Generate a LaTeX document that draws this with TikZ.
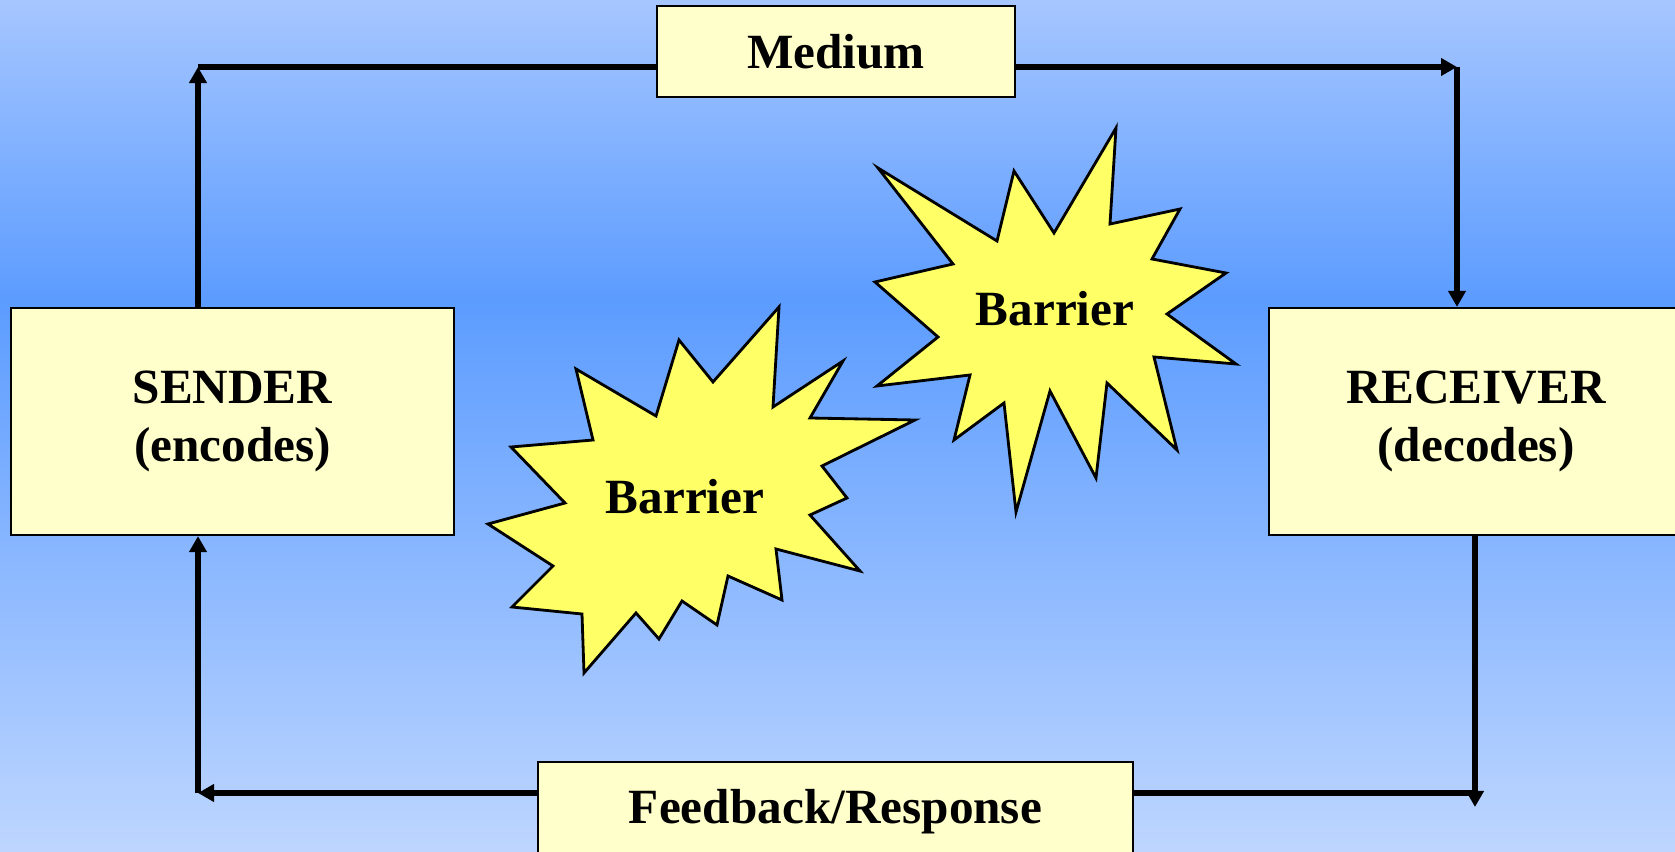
\documentclass[tikz,border=0pt]{standalone}
\usepackage{fontspec}
\setmainfont{Liberation Serif}
\usetikzlibrary{arrows.meta}

\definecolor{paleyellow}{HTML}{FFFFCC}
\definecolor{burstyellow}{HTML}{FFFF66}
\definecolor{skytop}{HTML}{A6C6FF}
\definecolor{skymid}{HTML}{5C9CFF}
\definecolor{skybot}{HTML}{BED6FF}

\tikzset{
  box/.style = {draw, line width = 0.6pt, fill = paleyellow, align = center,
                font = \fontsize{14}{16.5}\selectfont\bfseries, inner sep = 0pt},
  burst/.style = {draw, line width = 0.8pt, fill = burstyellow, line join = miter},
  flow/.style = {line width = 1.7pt, -{Triangle[length = 0.16cm, width = 0.17cm]}},
  link/.style = {line width = 1.7pt}
}

\begin{document}
\begin{tikzpicture}[x = 0.01cm, y = -0.01cm]
        \useasboundingbox (0,0) rectangle (1675,852);
        \shade [top color = skytop, bottom color = skymid] (0,0) rectangle (1675,300);
        \shade [top color = skymid, bottom color = skybot] (0,300) rectangle (1675,852);

        % boxes
        \node [box, minimum width = 4.43cm, minimum height = 2.27cm] (sender) at (232.5,421.5) {SENDER\\(encodes)};
        \node [box, minimum width = 4.14cm, minimum height = 2.27cm] (receiver) at (1476,421.5) {RECEIVER\\(decodes)};
        \node [box, minimum width = 3.58cm, minimum height = 0.91cm] (medium) at (836,51.5) {Medium};
        \node [box, minimum width = 5.95cm, minimum height = 1.00cm] (feedback) at (835.5,812) {Feedback/Response};

        % corners
        \coordinate (tl) at (198,67);
        \coordinate (tr) at (1457,67);
        \coordinate (br) at (1475,793);
        \coordinate (brtip) at (1475,807);
        \coordinate (bl) at (198,793);

        % barriers
        \draw [burst] (576,369) -- (656,416) -- (679,340) -- (713,382) -- (779,307) -- (773,407)
              -- (843,361) -- (810,418) -- (915,420) -- (822,466) -- (847,498) -- (810,515)
              -- (860,571) -- (776,549) -- (782,600) -- (728,576) -- (717,625) -- (682,601)
              -- (659,639) -- (636,613) -- (584,673) -- (582,614) -- (512,607) -- (553,566)
              -- (488,524) -- (565,503) -- (511,447) -- (593,440) -- cycle;
        \node [font = \fontsize{14}{16.5}\selectfont\bfseries] (barrier1) at (685,497) {Barrier};

        \draw [burst] (878,168) -- (997,241) -- (1014,171) -- (1054,233) -- (1116,128) -- (1110,224)
              -- (1180,209) -- (1152,259) -- (1226,273) -- (1167,314) -- (1236,364) -- (1154,357)
              -- (1177,450) -- (1107,383) -- (1096,478) -- (1050,391) -- (1016,512) -- (1004,403)
              -- (954,440) -- (970,375) -- (877,386) -- (938,337) -- (875,282) -- (953,264) -- cycle;
        \node [font = \fontsize{14}{16.5}\selectfont\bfseries] (barrier2) at (1055,309) {Barrier};

        % loop
        \draw [flow] (sender.north -| tl) -- (tl);
        \draw [link] (tl) -- (tl -| medium.west);
        \draw [flow] (tl -| medium.east) -- (tr);
        \draw [flow] (tr) -- (tr |- receiver.north);
        \draw [flow] (receiver.south -| br) -- (brtip);
        \draw [link] (br) -- (br -| feedback.east);
        \draw [flow] (feedback.west |- bl) -- (bl);
        \draw [flow] (bl) -- (bl |- sender.south);
\end{tikzpicture}
\end{document}
